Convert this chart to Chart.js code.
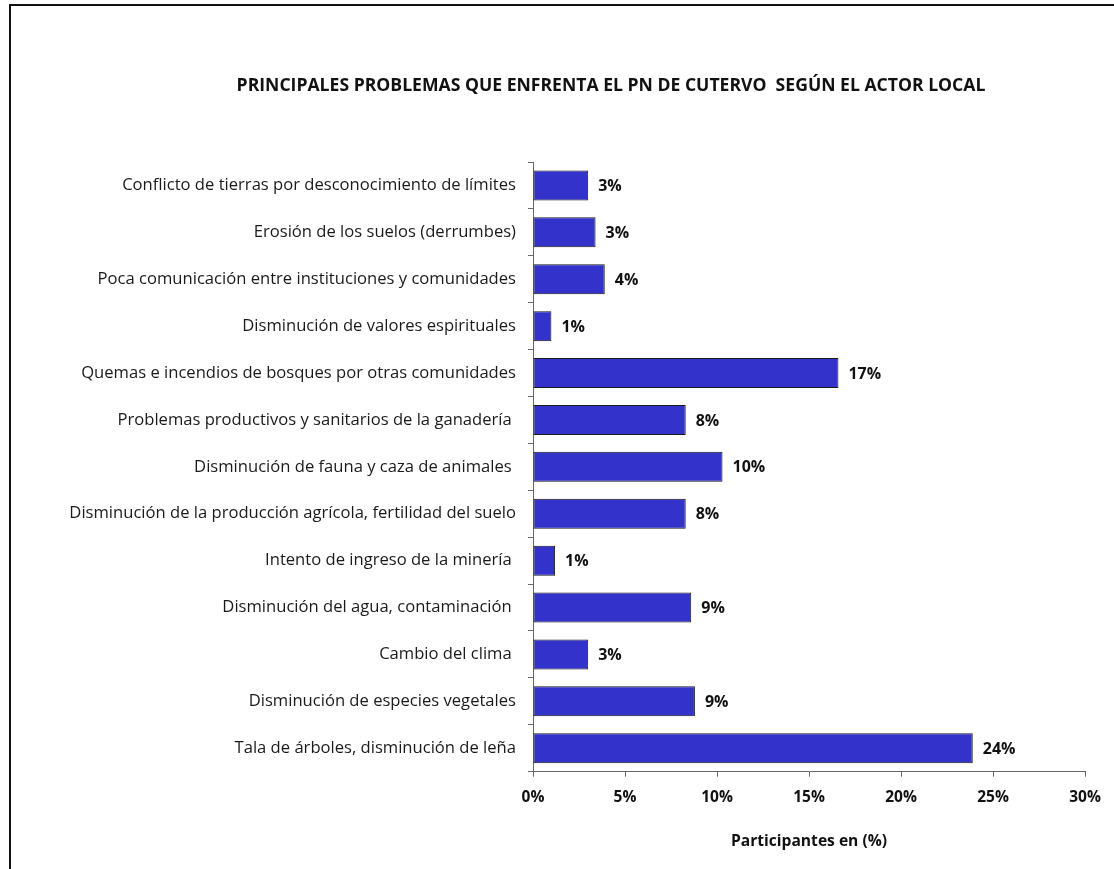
<!DOCTYPE html>
<html>
<head>
<meta charset="utf-8">
<script src="https://cdn.jsdelivr.net/npm/chart.js@4.4.1/dist/chart.umd.min.js"></script>
<style>
  html, body { margin: 0; padding: 0; background: #ffffff; overflow: hidden; }
  #wrap { position: relative; width: 1114px; height: 869px; }
  #frame { position: absolute; left: 9px; top: 4px; width: 2000px; height: 2000px;
           border-left: 2px solid #111; border-top: 2px solid #111; box-sizing: border-box; }
  canvas { position: absolute; left: 0; top: 0; }
</style>
</head>
<body>
<div id="wrap">
  <div id="frame"></div>
  <canvas id="c" width="1114" height="869"></canvas>
</div>
<script>
const titleText = 'PRINCIPALES PROBLEMAS QUE ENFRENTA EL PN DE CUTERVO  SEGÚN EL ACTOR LOCAL';
const axisTitle = 'Participantes en (%)';

const categories = [
  'Conflicto de tierras por desconocimiento de límites',
  'Erosión de los suelos (derrumbes)',
  'Poca comunicación entre instituciones y comunidades',
  'Disminución de valores espirituales',
  'Quemas e incendios de bosques por otras comunidades',
  'Problemas productivos y sanitarios de la ganadería ',
  'Disminución de fauna y caza de animales ',
  'Disminución de la producción agrícola, fertilidad del suelo',
  'Intento de ingreso de la minería ',
  'Disminución del agua, contaminación ',
  'Cambio del clima ',
  'Disminución de especies vegetales',
  'Tala de árboles, disminución de leña'
];

const values = [3.0, 3.4, 3.9, 1.0, 16.6, 8.3, 10.3, 8.3, 1.2, 8.6, 3.0, 8.8, 23.9];

const xTicks = [0, 5, 10, 15, 20, 25, 30];

const FONT = '"Open Sans", "Liberation Sans", sans-serif';

// Title drawn off-centre (as in the reference), centred at x = 611
const offsetTitle = {
  id: 'offsetTitle',
  afterDraw(chart) {
    const ctx = chart.ctx;
    ctx.save();
    ctx.font = 'bold 17.6px ' + FONT;
    ctx.fillStyle = '#111';
    ctx.textAlign = 'center';
    ctx.textBaseline = 'middle';
    ctx.fillText(titleText, 611, 86);
    ctx.restore();
  }
};

const valueLabels = {
  id: 'valueLabels',
  afterDatasetsDraw(chart) {
    const ctx = chart.ctx;
    const meta = chart.getDatasetMeta(0);
    ctx.save();
    ctx.font = 'bold 16px ' + FONT;
    ctx.fillStyle = '#111';
    ctx.textAlign = 'left';
    ctx.textBaseline = 'middle';
    meta.data.forEach((bar, i) => {
      ctx.fillText(Math.round(values[i]) + '%', bar.x + 10, bar.y + 1);
    });
    ctx.restore();
  }
};

new Chart(document.getElementById('c'), {
  type: 'bar',
  data: {
    labels: categories,
    datasets: [{
      data: values,
      backgroundColor: '#3333CC',
      borderColor: '#1a1a1a',
      borderWidth: 1,
      borderSkipped: false,
      barPercentage: 0.64,
      categoryPercentage: 1.0
    }]
  },
  options: {
    indexAxis: 'y',
    responsive: false,
    animation: false,
    layout: { padding: { left: 0, right: 29, top: 162, bottom: 14 } },
    plugins: {
      legend: { display: false },
      tooltip: { enabled: false },
      title: { display: false }
    },
    scales: {
      y: {
        type: 'category',
        afterFit(scale) { scale.width = 533; },
        grid: { display: true, drawOnChartArea: false, offset: true, tickLength: 5, color: '#666' },
        border: { display: true, color: '#666', width: 1 },
        ticks: { color: '#1a1a1a', font: { family: FONT, size: 16.6 }, padding: 12, autoSkip: false }
      },
      x: {
        type: 'linear',
        min: 0,
        max: 30,
        afterBuildTicks(scale) { scale.ticks = xTicks.map(v => ({ value: v })); },
        grid: { display: true, drawOnChartArea: false, tickLength: 5, color: '#666' },
        border: { display: true, color: '#666', width: 1 },
        ticks: {
          color: '#111',
          font: { family: FONT, size: 15.5, weight: 'bold' },
          padding: 12,
          callback: v => v + '%'
        },
        title: {
          display: true,
          text: axisTitle,
          color: '#111',
          font: { family: FONT, size: 15.6, weight: 'bold' },
          padding: { top: 13, bottom: 4 }
        }
      }
    }
  },
  plugins: [valueLabels, offsetTitle]
});
</script>
</body>
</html>
